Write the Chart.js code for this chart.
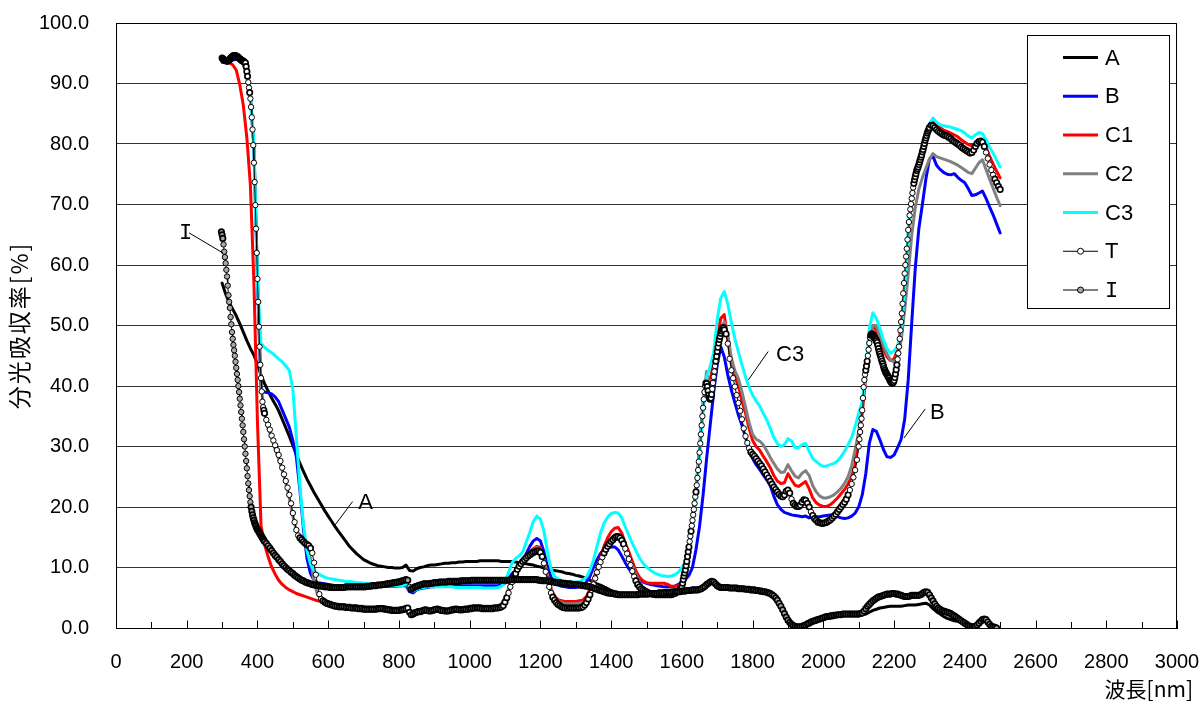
<!DOCTYPE html>
<html>
<head>
<meta charset="utf-8">
<title>分光吸収率</title>
<script src="https://cdn.jsdelivr.net/npm/chart.js@4/dist/chart.umd.min.js"></script>
<style>
  html, body { margin: 0; padding: 0; background: #fff; }
  canvas { display: block; }
</style>
</head>
<body>
<canvas id="chart" width="1203" height="702"></canvas>
<script>
// ---- Spectra: absorption [%] against wavelength [nm] ----

// Solid-line samples share a 10 nm grid starting at 300 nm
const LINE_START = 300;
const LINE_STEP = 10;

const aAbs = [
  57.0, 55.2, 53.8, 52.7, 51.6, 50.3, 48.9, 47.5, 46.2, 45.1,
  43.6, 41.8, 40.4, 39.2, 38.0, 37.0, 35.9, 34.5, 33.1, 31.7,
  30.2, 28.7, 27.2, 25.9, 24.6, 23.5, 22.4, 21.4, 20.4, 19.4,
  18.5, 17.6, 16.7, 15.9, 15.1, 14.3, 13.5, 12.9, 12.3, 11.8,
  11.3, 11.0, 10.7, 10.5, 10.3, 10.2, 10.1, 10.0, 10.0, 9.9,
  9.9, 10.0, 10.4, 9.5, 9.4, 9.8, 10.0, 10.1, 10.3, 10.4,
  10.4, 10.5, 10.6, 10.7, 10.7, 10.8, 10.8, 10.9, 10.9, 11.0,
  11.0, 11.0, 11.0, 11.1, 11.1, 11.1, 11.1, 11.1, 11.1, 11.0,
  11.0, 11.0, 11.0, 10.9, 10.8, 10.7, 10.6, 10.5, 10.4, 10.2,
  10.1, 9.9, 9.8, 9.6, 9.5, 9.4, 9.3, 9.1, 9.0, 8.9,
  8.7, 8.6, 8.4, 8.2, 7.9, 7.6, 7.3, 7.1, 6.8, 6.5,
  6.2, 6.0, 5.8, 5.7, 5.6, 5.5, 5.5, 5.5, 5.5, 5.5,
  5.6, 5.6, 5.6, 5.7, 5.7, 5.8, 5.8, 5.9, 5.9, 6.0,
  6.0, 6.1, 6.2, 6.2, 6.3, 6.4, 6.6, 7.0, 7.4, 7.5,
  7.0, 6.7, 6.6, 6.6, 6.5, 6.5, 6.4, 6.4, 6.3, 6.3,
  6.2, 6.1, 6.0, 5.9, 5.8, 5.6, 5.2, 4.5, 3.5, 2.3,
  1.3, 0.6, 0.3, 0.2, 0.2, 0.4, 0.7, 0.9, 1.1, 1.3,
  1.5, 1.7, 1.8, 1.9, 2.0, 2.0, 2.1, 2.1, 2.1, 2.1,
  2.1, 2.2, 2.3, 2.6, 2.9, 3.1, 3.3, 3.4, 3.5, 3.6,
  3.6, 3.6, 3.6, 3.7, 3.8, 3.8, 3.8, 3.9, 4.0, 4.1,
  3.8, 3.2, 2.7, 2.3, 1.9, 1.6, 1.4, 1.2, 1.1, 1.0,
  0.8, 0.5, 0.2, 0.2, 0.5, 1.0, 1.2, 0.7, 0.3, 0.0
];

const bAbs = [
  93.5, 93.5, 93.6, 93.9, 94.0, 93.8, 93.2, 91.8, 87.8, 79.5,
  57.5, 39.5, 39.0, 38.9, 38.7, 38.2, 37.4, 36.0, 34.6, 33.2,
  31.0, 28.3, 22.8, 16.4, 11.5, 9.0, 7.9, 7.5, 7.4, 7.3,
  7.2, 7.1, 7.0, 7.0, 6.9, 6.9, 6.9, 6.9, 6.9, 6.9,
  6.9, 6.9, 6.9, 6.9, 6.9, 6.9, 6.9, 6.9, 6.9, 6.9,
  6.9, 7.0, 7.0, 6.0, 5.8, 6.3, 6.5, 6.6, 6.7, 6.8,
  6.8, 6.9, 6.9, 6.9, 6.9, 6.9, 7.0, 7.0, 7.0, 7.0,
  7.0, 7.0, 7.0, 7.0, 7.0, 7.0, 7.0, 7.0, 7.0, 7.1,
  7.4, 8.2, 9.0, 9.5, 10.1, 11.0, 12.3, 13.5, 14.4, 14.8,
  14.4, 12.6, 10.2, 8.4, 7.5, 7.1, 6.9, 6.8, 6.7, 6.7,
  6.7, 6.8, 7.0, 7.6, 8.5, 10.0, 11.3, 12.3, 13.0, 13.3,
  13.4, 13.4, 12.9, 11.9, 10.8, 9.8, 9.0, 8.3, 7.9, 7.6,
  7.4, 7.2, 7.1, 7.0, 6.9, 6.8, 6.8, 6.8, 6.9, 7.2,
  7.6, 8.0, 8.7, 10.0, 13.0, 16.8, 22.0, 28.0, 33.5, 39.0,
  43.5, 46.5, 44.8, 41.8, 39.3, 37.2, 35.2, 33.5, 31.5, 29.4,
  28.0, 27.0, 26.2, 25.3, 24.5, 23.5, 21.8, 20.4, 19.6, 19.1,
  18.9, 18.7, 18.6, 18.5, 18.4, 18.5, 18.2, 18.3, 18.4, 18.4,
  18.5, 18.6, 18.7, 18.6, 18.4, 18.2, 18.1, 18.2, 18.5, 19.0,
  20.0, 22.0, 25.5, 30.5, 32.8, 32.5, 31.1, 29.5, 28.3, 28.2,
  28.6, 29.8, 31.2, 34.5, 41.0, 50.5, 59.5, 66.0, 70.0, 74.2,
  77.5, 78.0, 76.5, 75.8, 75.3, 75.0, 74.9, 75.1, 74.5, 74.0,
  73.6, 72.6, 71.5, 71.6, 71.9, 72.2, 71.0, 69.6, 68.3, 66.8,
  65.3
];

const c1Abs = [
  93.9, 93.7, 93.4, 93.1, 92.2, 89.8, 86.4, 81.0, 73.2, 57.0,
  34.0, 17.0, 13.8, 11.8, 10.1, 8.9, 7.9, 7.2, 6.7, 6.3,
  6.0, 5.7, 5.5, 5.3, 5.1, 4.9, 4.7, 4.5, 4.4, 4.3,
  4.1, 4.0, 3.9, 3.8, 3.7, 3.6, 3.6, 3.5, 3.5, 3.4,
  3.4, 3.3, 3.3, 3.3, 3.3, 3.3, 3.3, 3.2, 3.1, 3.1,
  3.1, 3.2, 3.4, 2.8, 2.5, 2.8, 2.9, 3.1, 3.1, 3.0,
  3.2, 3.3, 3.1, 3.0, 3.0, 3.2, 3.3, 3.2, 3.2, 3.3,
  3.4, 3.5, 3.5, 3.5, 3.4, 3.4, 3.4, 3.5, 3.5, 3.7,
  4.6, 6.2, 8.0, 9.5, 10.6, 11.3, 12.0, 12.6, 13.1, 13.5,
  13.3, 11.4, 8.6, 6.5, 5.3, 4.7, 4.5, 4.4, 4.4, 4.4,
  4.4, 4.5, 4.6, 5.2, 6.4, 8.0, 9.9, 11.8, 13.5, 14.9,
  15.9, 16.5, 16.6, 15.7, 14.0, 12.6, 11.0, 9.4, 8.4, 7.8,
  7.5, 7.4, 7.4, 7.4, 7.4, 7.4, 7.2, 6.9, 6.9, 7.0,
  7.4, 9.8, 13.6, 18.2, 23.0, 29.5, 36.5, 41.5, 41.0, 44.0,
  48.2, 51.2, 51.8, 47.5, 43.8, 41.5, 40.0, 37.5, 35.5, 33.0,
  31.0, 30.0, 29.4, 28.4, 27.5, 26.5, 25.2, 24.3, 23.9, 24.0,
  25.5, 24.5, 23.6, 23.4, 23.8, 24.2, 23.0, 21.5, 20.7, 20.3,
  20.1, 20.1, 20.4, 20.9, 21.5, 22.2, 22.9, 23.8, 25.0, 27.0,
  31.0, 35.5, 41.5, 47.2, 49.8, 49.2, 47.5, 46.0, 44.8, 44.2,
  44.5, 46.0, 50.0, 57.0, 65.0, 71.0, 74.5, 76.5, 79.0, 81.5,
  83.2, 83.8, 83.0, 82.7, 82.3, 82.1, 81.8, 81.5, 81.2, 80.7,
  80.3, 79.9, 79.7, 80.2, 80.7, 80.5, 79.5, 78.0, 76.7, 75.5,
  74.4
];

const c2Abs = [
  94.0, 93.9, 94.0, 94.2, 94.3, 93.9, 93.3, 92.0, 88.0, 79.5,
  58.0, 40.0, 35.5, 33.0, 31.5, 29.5, 28.0, 26.0, 24.0, 21.5,
  18.5, 16.0, 14.8, 14.2, 13.8, 11.5, 7.5, 5.5, 4.8, 4.5,
  4.3, 4.1, 4.0, 3.9, 3.9, 3.8, 3.8, 3.7, 3.7, 3.6,
  3.6, 3.5, 3.5, 3.5, 3.5, 3.5, 3.5, 3.4, 3.3, 3.3,
  3.3, 3.4, 3.6, 3.0, 2.7, 3.0, 3.1, 3.3, 3.3, 3.2,
  3.4, 3.5, 3.3, 3.2, 3.2, 3.4, 3.5, 3.4, 3.4, 3.5,
  3.6, 3.7, 3.7, 3.7, 3.6, 3.6, 3.6, 3.7, 3.7, 4.0,
  5.0, 6.6, 8.2, 9.4, 10.2, 10.8, 11.5, 12.3, 12.9, 13.3,
  13.0, 11.2, 8.5, 6.4, 5.2, 4.5, 4.2, 4.0, 4.0, 4.0,
  4.0, 4.1, 4.2, 4.7, 5.8, 7.4, 9.3, 11.1, 12.7, 13.9,
  14.8, 15.3, 15.4, 14.6, 13.3, 11.9, 10.3, 8.8, 7.6, 6.8,
  6.3, 6.0, 5.8, 5.6, 5.4, 5.3, 5.3, 5.4, 5.6, 6.0,
  6.8, 9.5, 13.3, 18.0, 23.0, 30.0, 37.5, 42.4, 39.5, 42.0,
  46.5, 49.5, 50.6, 48.5, 44.6, 42.5, 41.2, 39.0, 36.5, 34.0,
  32.0, 31.2, 30.9, 30.3, 29.3, 28.2, 27.2, 26.3, 25.7, 25.8,
  27.0, 26.0, 25.1, 24.8, 25.6, 26.0, 25.2, 23.5, 22.5, 21.8,
  21.5, 21.5, 21.7, 22.0, 22.5, 23.1, 23.9, 25.0, 26.8, 29.5,
  32.5, 37.0, 42.0, 47.3, 50.0, 50.0, 48.2, 46.7, 45.3, 44.3,
  44.0, 45.0, 47.5, 52.5, 58.5, 65.0, 69.5, 72.5, 74.4, 76.0,
  77.5, 78.4, 77.9, 77.7, 77.5, 77.3, 77.1, 76.8, 76.5, 76.1,
  75.7, 75.3, 75.1, 76.0, 76.9, 77.4, 75.8, 74.2, 72.7, 71.2,
  69.8
];

const c3Abs = [
  94.1, 94.0, 94.1, 94.3, 94.4, 94.0, 93.3, 92.0, 88.2, 80.0,
  57.5, 47.0, 46.4, 45.9, 45.5, 45.0, 44.5, 44.0, 43.3, 42.6,
  39.5, 31.5, 23.5, 17.0, 12.8, 10.5, 9.5, 9.0, 8.7, 8.4,
  8.2, 8.1, 8.0, 7.9, 7.8, 7.7, 7.7, 7.6, 7.5, 7.5,
  7.4, 7.4, 7.3, 7.3, 7.2, 7.2, 7.1, 7.1, 7.0, 7.0,
  6.9, 7.0, 7.2, 6.3, 6.1, 6.4, 6.6, 6.7, 6.8, 6.8,
  6.8, 6.8, 6.8, 6.8, 6.8, 6.8, 6.7, 6.7, 6.7, 6.7,
  6.7, 6.7, 6.7, 6.7, 6.6, 6.6, 6.6, 6.6, 6.7, 6.9,
  7.6, 9.2, 10.8, 11.5, 11.9, 12.6, 14.2, 15.8, 17.6, 18.5,
  18.0, 16.0, 12.6, 9.8, 8.5, 8.1, 7.8, 7.7, 7.6, 7.6,
  7.6, 7.7, 7.9, 8.4, 9.5, 11.2, 13.5, 15.7, 17.3, 18.3,
  18.9, 19.1, 19.0, 18.2, 16.7, 15.3, 14.0, 12.8, 11.6, 10.7,
  10.1, 9.6, 9.2, 8.9, 8.7, 8.6, 8.5, 8.6, 8.8, 9.2,
  10.0, 10.8, 12.5, 16.5, 22.0, 28.5, 36.0, 41.5, 43.2, 45.5,
  51.0, 54.5, 55.6, 53.5, 50.5, 47.8, 45.6, 43.5, 41.5, 39.8,
  38.5, 37.5, 36.7, 35.5, 34.4, 33.0, 31.5, 30.5, 30.0, 30.3,
  31.3, 30.9, 29.8, 29.8, 30.3, 30.5, 29.2, 28.0, 27.5, 27.0,
  26.7, 26.8, 27.0, 27.2, 27.6, 28.3, 29.2, 30.3, 31.5, 33.3,
  35.5, 37.5, 42.0, 49.5, 52.1, 51.2, 49.5, 47.6, 46.2, 45.4,
  45.8, 46.6, 49.0, 56.0, 65.5, 71.5, 74.3, 76.0, 78.4, 81.2,
  83.3, 84.3, 83.6, 83.2, 83.0, 82.9, 82.8, 82.6, 82.4, 82.2,
  81.8, 81.3, 81.0, 81.5, 81.9, 81.7, 80.7, 79.5, 78.5, 77.3,
  76.2
];

// Marker sample T: measured in segments (start nm, step nm)
const tStarts = [300, 425, 1602, 1725, 2102, 2305];
const tSteps = [2, 5, 2, 5, 2, 5];
const tAbs = [
  [ // 300-420
    94.2, 94.1, 94.0, 93.9, 93.8, 93.8, 93.7, 93.7, 93.7, 93.8,
    93.9, 94.0, 94.2, 94.3, 94.4, 94.5, 94.6, 94.6, 94.6, 94.6,
    94.5, 94.5, 94.4, 94.3, 94.2, 94.1, 94.0, 93.9, 93.8, 93.7,
    93.7, 93.6, 93.5, 93.4, 92.8, 92.0, 91.2, 90.2, 89.3, 88.5,
    87.5, 86.1, 84.4, 82.4, 79.8, 76.9, 73.7, 69.9, 66.0, 62.0,
    57.7, 53.9, 49.8, 46.5, 43.5, 41.3, 39.1, 37.4, 36.5, 36.0,
    35.5
  ],
  [ // 425-1600
    34.4, 33.6, 32.8, 31.8, 31.0, 30.2, 29.4, 28.6, 27.6, 26.5, 25.4, 24.3, 23.2, 22.0, 20.6,
    19.0, 17.5, 16.2, 15.3, 14.9, 14.6, 14.3, 14.0, 13.8, 13.6, 13.2, 12.4, 10.8, 8.8, 7.1, 5.6, 4.8, 4.5, 4.3, 4.1,
    4.0, 3.9, 3.8, 3.7, 3.6, 3.6, 3.5, 3.5, 3.5, 3.5, 3.4, 3.4, 3.4, 3.3, 3.3, 3.3, 3.3, 3.2, 3.2, 3.2,
    3.1, 3.1, 3.1, 3.1, 3.1, 3.1, 3.1, 3.1, 3.2, 3.2, 3.2, 3.2, 3.1, 3.1, 3.0, 3.0, 2.9, 2.9, 2.9, 2.9,
    2.9, 3.0, 3.0, 3.1, 3.2, 3.3, 2.6, 2.2, 2.3, 2.5, 2.6, 2.7, 2.7, 2.8, 2.9, 3.0, 2.9, 2.8, 2.8, 2.9,
    3.0, 3.1, 3.1, 3.0, 2.9, 2.9, 2.8, 2.8, 2.8, 2.9, 3.0, 3.0, 3.1, 3.1, 3.0, 3.0, 3.0, 3.1, 3.1, 3.1,
    3.2, 3.2, 3.3, 3.3, 3.3, 3.3, 3.3, 3.2, 3.2, 3.2, 3.2, 3.2, 3.2, 3.2, 3.3, 3.3, 3.3, 3.4, 3.5, 3.7,
    4.3, 5.0, 5.8, 6.8, 7.6, 8.3, 9.0, 9.7, 10.2, 10.6, 11.0, 11.3, 11.6, 11.9, 12.1, 12.3, 12.5, 12.6, 12.7, 12.7,
    12.5, 11.8, 10.7, 9.3, 8.0, 6.8, 5.8, 5.1, 4.6, 4.2, 3.9, 3.7, 3.5, 3.4, 3.3, 3.3, 3.3, 3.3, 3.3, 3.3,
    3.3, 3.3, 3.3, 3.4, 3.5, 3.8, 4.2, 4.8, 5.5, 6.3, 7.2, 8.2, 9.2, 10.1, 10.9, 11.7, 12.4, 13.0, 13.5, 13.9,
    14.3, 14.6, 14.9, 15.1, 15.1, 14.9, 14.5, 13.9, 13.1, 12.3, 11.4, 10.4, 9.4, 8.5, 7.8, 7.2, 6.8, 6.5, 6.3, 6.1,
    6.0, 5.8, 5.7, 5.6, 5.6, 5.5, 5.5, 5.5, 5.5, 5.5, 5.5, 5.5, 5.5, 5.5, 5.5, 5.6, 5.7, 5.9, 6.1, 6.4,
    6.8
  ],
  [ // 1602-1720
    7.4, 8.0, 8.6, 9.1, 9.6, 10.3, 11.0, 11.8, 12.6, 13.4,
    14.3, 15.2, 16.0, 16.9, 17.8, 18.7, 19.6, 20.6, 21.7, 22.5,
    23.6, 24.8, 26.1, 27.5, 29.0, 30.5, 32.0, 33.5, 35.0, 36.4,
    37.8, 39.0, 40.0, 40.5, 40.4, 39.9, 39.2, 38.5, 38.0, 37.8,
    38.0, 38.6, 39.5, 40.5, 41.5, 42.4, 43.3, 44.1, 44.9, 45.7,
    46.4, 47.1, 47.7, 48.2, 48.7, 49.1, 49.4, 49.6, 49.6, 49.3
  ],
  [ // 1725-2100
    48.6, 47.0, 44.5, 42.6, 41.3, 39.9, 38.5, 37.2, 35.9, 34.5, 33.0, 31.7, 30.6, 29.7, 29.1,
    28.7, 28.4, 28.0, 27.6, 27.2, 26.8, 26.3, 25.8, 25.3, 24.8, 24.3, 23.8, 23.3, 22.9, 22.5, 22.1, 21.8, 21.7, 22.0, 22.6,
    22.8, 22.3, 21.3, 20.6, 20.3, 20.1, 20.1, 20.3, 20.8, 21.2, 21.1, 20.6, 20.0, 19.2, 18.6, 18.1, 17.8, 17.5, 17.4, 17.3,
    17.3, 17.4, 17.5, 17.7, 17.9, 18.2, 18.5, 18.8, 19.2, 19.6, 20.0, 20.4, 20.8, 21.3, 22.0, 22.8, 23.8, 24.9, 26.1, 27.8,
    30.0
  ],
  [ // 2102-2300
    31.2, 32.4, 33.5, 34.6, 36.0, 38.0, 39.8, 41.0, 41.9, 42.6,
    43.3, 44.1, 45.0, 46.0, 47.1, 48.0, 48.4, 48.6, 48.6, 48.5,
    48.3, 48.1, 47.9, 47.7, 47.5, 47.2, 46.7, 46.2, 45.7, 45.3,
    44.9, 44.5, 44.1, 43.7, 43.3, 42.9, 42.6, 42.3, 42.1, 41.9,
    41.7, 41.5, 41.3, 41.0, 40.8, 40.6, 40.5, 40.5, 40.6, 40.9,
    41.4, 42.0, 42.7, 43.5, 44.4, 45.4, 46.5, 47.8, 49.2, 50.6,
    52.0, 53.6, 55.3, 57.0, 58.6, 60.0, 61.4, 62.7, 64.2, 65.8,
    67.1, 68.2, 69.2, 70.1, 71.0, 71.9, 72.8, 73.5, 74.1, 74.6,
    75.1, 75.6, 75.9, 76.2, 76.6, 77.0, 77.4, 77.8, 78.2, 78.7,
    79.1, 79.6, 80.1, 80.6, 81.0, 81.4, 81.8, 82.1, 82.4, 82.7
  ],
  [ // 2305-2500
    83.1, 83.0, 82.7, 82.4, 82.1, 81.9, 81.7, 81.5, 81.4, 81.3, 81.1, 80.9, 80.6, 80.4, 80.2, 80.0, 79.8, 79.5, 79.3,
    79.1, 78.9, 78.7, 78.5, 78.6, 79.0, 79.6, 80.1, 80.4, 80.5, 80.3, 79.6, 78.6, 77.6, 76.6, 75.7, 74.9, 74.2, 73.6, 73.0,
    72.5
  ]
];

// Marker sample I
const iStarts = [298, 425];
const iSteps = [2, 5];
const iAbs = [
  [ // 298-420
    65.5, 65.0, 64.4, 63.4, 62.2, 61.3, 60.3, 59.2, 58.1, 56.6,
    55.0, 53.9, 52.9, 51.4, 50.2, 48.9, 47.8, 46.8, 45.9, 45.0,
    44.0, 43.0, 42.0, 41.0, 40.0, 39.0, 37.9, 36.8, 35.7, 34.6,
    33.5, 32.4, 31.2, 30.0, 28.8, 27.6, 26.4, 25.1, 23.9, 22.8,
    21.8, 20.8, 20.0, 19.3, 18.7, 18.2, 17.8, 17.4, 17.1, 16.8,
    16.5, 16.3, 16.1, 15.9, 15.7, 15.5, 15.3, 15.1, 14.9, 14.7,
    14.5, 14.3
  ],
  [ // 425-2490
    14.0, 13.6, 13.2, 12.8, 12.4, 12.0, 11.7, 11.3, 11.0, 10.6, 10.3, 10.0, 9.7, 9.5, 9.2,
    9.0, 8.7, 8.5, 8.3, 8.1, 7.9, 7.8, 7.6, 7.5, 7.4, 7.3, 7.2, 7.1, 7.1, 7.0, 7.0, 6.9, 6.9, 6.8, 6.8,
    6.8, 6.7, 6.7, 6.7, 6.7, 6.7, 6.7, 6.7, 6.7, 6.7, 6.8, 6.8, 6.8, 6.8, 6.8, 6.8, 6.8, 6.8, 6.8, 6.8,
    6.8, 6.8, 6.9, 6.9, 6.9, 7.0, 7.0, 7.0, 7.1, 7.1, 7.1, 7.2, 7.2, 7.3, 7.3, 7.4, 7.4, 7.5, 7.5, 7.6,
    7.6, 7.7, 7.8, 7.9, 8.0, 7.9, 6.8, 6.4, 6.6, 6.8, 6.9, 7.0, 7.1, 7.2, 7.3, 7.3, 7.3, 7.3, 7.4, 7.4,
    7.5, 7.5, 7.5, 7.6, 7.6, 7.6, 7.6, 7.6, 7.7, 7.7, 7.7, 7.7, 7.7, 7.7, 7.7, 7.8, 7.8, 7.8, 7.8, 7.8,
    7.8, 7.9, 7.9, 7.9, 7.9, 7.9, 7.9, 7.9, 7.9, 7.9, 7.9, 7.9, 7.9, 7.9, 7.9, 7.9, 7.9, 7.9, 7.9, 7.9,
    7.9, 7.9, 7.9, 8.0, 8.0, 8.0, 8.0, 8.0, 8.0, 8.0, 8.0, 8.0, 8.0, 8.0, 8.0, 8.0, 8.0, 8.0, 8.0, 7.9,
    7.9, 7.8, 7.8, 7.8, 7.8, 7.7, 7.7, 7.6, 7.6, 7.5, 7.5, 7.5, 7.4, 7.4, 7.4, 7.3, 7.3, 7.3, 7.2, 7.2,
    7.2, 7.2, 7.1, 7.1, 7.0, 7.0, 6.9, 6.9, 6.8, 6.7, 6.6, 6.5, 6.4, 6.3, 6.2, 6.1, 6.0, 5.9, 5.8, 5.8,
    5.7, 5.7, 5.6, 5.6, 5.5, 5.5, 5.5, 5.5, 5.5, 5.5, 5.5, 5.5, 5.5, 5.5, 5.5, 5.5, 5.6, 5.6, 5.6, 5.6,
    5.6, 5.6, 5.7, 5.7, 5.7, 5.7, 5.7, 5.8, 5.8, 5.8, 5.8, 5.9, 5.9, 5.9, 5.9, 6.0, 6.0, 6.0, 6.0, 6.0,
    6.1, 6.1, 6.1, 6.2, 6.2, 6.2, 6.3, 6.3, 6.3, 6.3, 6.4, 6.5, 6.7, 6.9, 7.2, 7.4, 7.6, 7.7, 7.6, 7.3,
    7.0, 6.8, 6.7, 6.7, 6.7, 6.7, 6.7, 6.6, 6.6, 6.6, 6.6, 6.6, 6.5, 6.5, 6.5, 6.5, 6.4, 6.4, 6.4, 6.3,
    6.3, 6.3, 6.2, 6.2, 6.1, 6.1, 6.0, 6.0, 5.9, 5.8, 5.7, 5.5, 5.3, 5.0, 4.6, 4.1, 3.6, 3.0, 2.4, 1.8,
    1.3, 0.9, 0.6, 0.4, 0.3, 0.2, 0.2, 0.2, 0.3, 0.4, 0.5, 0.7, 0.8, 1.0, 1.1, 1.2, 1.3, 1.4, 1.5, 1.6,
    1.7, 1.8, 1.9, 1.9, 2.0, 2.0, 2.1, 2.1, 2.2, 2.2, 2.2, 2.3, 2.3, 2.3, 2.3, 2.3, 2.3, 2.3, 2.3, 2.3,
    2.3, 2.4, 2.5, 2.8, 3.2, 3.6, 3.9, 4.2, 4.5, 4.7, 4.9, 5.1, 5.2, 5.3, 5.4, 5.5, 5.6, 5.6, 5.6, 5.7,
    5.7, 5.6, 5.6, 5.5, 5.4, 5.3, 5.2, 5.2, 5.2, 5.3, 5.4, 5.4, 5.4, 5.4, 5.4, 5.5, 5.7, 5.9, 6.0, 5.9,
    5.5, 5.0, 4.5, 4.0, 3.6, 3.3, 3.1, 2.9, 2.8, 2.7, 2.6, 2.5, 2.4, 2.2, 2.0, 1.8, 1.6, 1.4, 1.2, 1.0,
    0.8, 0.6, 0.4, 0.3, 0.2, 0.2, 0.3, 0.5, 0.8, 1.1, 1.4, 1.5, 1.4, 1.0, 0.6, 0.3, 0.2, 0.1, 0.0
  ]
];

// Axis ticks
const xTickStep = 200;
const xMinorStep = 100;
const yTickStep = 10;

// Call-out labels beside the curves: [wavelength nm, absorption %]
const noteText = ['I', 'A', 'C3', 'B'];
const noteTextAt = [[197, 65.2], [706, 20.6], [1906, 45.2], [2322, 35.6]];
const noteLineFrom = [[207, 65.3], [669, 20.9], [1844, 45.7], [2288, 36.2]];
const noteLineTo = [[302, 62.0], [619, 17.0], [1788, 41.0], [2228, 31.4]];

// ---- Build point lists ----
function gridPoints(start, step, values) {
  return values.map((v, i) => ({ x: start + i * step, y: v }));
}
function segmentPoints(starts, steps, segs) {
  let pts = [];
  segs.forEach((vals, k) => { pts = pts.concat(gridPoints(starts[k], steps[k], vals)); });
  return pts;
}

const LATIN = '"Liberation Sans", Arial, sans-serif';
const CJK = '"Noto Sans CJK JP", "Noto Sans", sans-serif';
const SERIF_I = '"Liberation Mono", "DejaVu Sans Mono", monospace';

// Where consecutive markers crowd together their outlines merge into a dark band;
// give crowded markers a heavier outline so the band reads solid.
function crowdedOutline(ctx) {
  const data = ctx.dataset && ctx.dataset.data;
  const i = ctx.dataIndex;
  if (!data || i == null) return 1;
  const xs = ctx.chart.scales.x, ys = ctx.chart.scales.y;
  const p = data[i], q = data[i > 0 ? i - 1 : i + 1];
  if (!p || !q) return 1;
  const d = Math.hypot(xs.getPixelForValue(p.x) - xs.getPixelForValue(q.x),
                       ys.getPixelForValue(p.y) - ys.getPixelForValue(q.y));
  return d < 5 ? 1.7 : 1;
}

function solid(label, color, values, order) {
  return {
    label, order,
    data: gridPoints(LINE_START, LINE_STEP, values),
    borderColor: color, backgroundColor: color,
    borderWidth: 3, pointRadius: 0,
    borderJoinStyle: 'round', borderCapStyle: 'round',
    fill: false, tension: 0
  };
}
function marked(label, fillColor, pts, order) {
  return {
    label, order, data: pts,
    borderColor: '#000', backgroundColor: fillColor,
    borderWidth: 1, fill: false, tension: 0,
    pointRadius: 2.7, pointBorderWidth: crowdedOutline,
    pointBackgroundColor: fillColor, pointBorderColor: '#000',
    pointStyle: 'circle'
  };
}

const datasets = [
  solid('A', '#000000', aAbs, 6),
  solid('B', '#0000ff', bAbs, 5),
  solid('C1', '#ff0000', c1Abs, 4),
  solid('C2', '#808080', c2Abs, 3),
  solid('C3', '#00ffff', c3Abs, 2),
  marked('T', '#ffffff', segmentPoints(tStarts, tSteps, tAbs), 1),
  marked('I', '#a8a8a8', segmentPoints(iStarts, iSteps, iAbs), 0)
];

// ---- Decorations: frame, inner tick marks, call-outs, legend, axis titles ----
const decor = {
  id: 'decor',
  afterDraw(chart) {
    const { ctx, chartArea: a, scales: { x, y } } = chart;
    ctx.save();

    // top and right edges of the plot frame
    ctx.strokeStyle = '#000';
    ctx.lineWidth = 1;
    ctx.beginPath();
    ctx.moveTo(Math.round(a.left) + 0.5, Math.round(a.top) + 0.5);
    ctx.lineTo(Math.round(a.right) - 0.5, Math.round(a.top) + 0.5);
    ctx.lineTo(Math.round(a.right) - 0.5, Math.round(a.bottom) + 0.5);
    ctx.stroke();

    // tick marks pointing into the plot
    ctx.beginPath();
    for (let v = x.min; v <= x.max; v += xMinorStep) {
      const px = Math.round(x.getPixelForValue(v)) + 0.5;
      const len = (v % xTickStep === 0) ? 7.5 : 6;
      ctx.moveTo(px, a.bottom);
      ctx.lineTo(px, a.bottom - len);
    }
    ctx.stroke();

    // call-outs
    ctx.fillStyle = '#000';
    ctx.textAlign = 'center';
    ctx.textBaseline = 'middle';
    noteText.forEach((t, k) => {
      ctx.beginPath();
      ctx.moveTo(x.getPixelForValue(noteLineFrom[k][0]), y.getPixelForValue(noteLineFrom[k][1]));
      ctx.lineTo(x.getPixelForValue(noteLineTo[k][0]), y.getPixelForValue(noteLineTo[k][1]));
      ctx.stroke();
      ctx.font = (t === 'I' ? '22px ' + SERIF_I : '22px ' + LATIN);
      ctx.fillText(t, x.getPixelForValue(noteTextAt[k][0]), y.getPixelForValue(noteTextAt[k][1]));
    });

    // legend box
    const box = { l: 1027.5, t: 35.5, r: 1169.5, b: 308.5 };
    ctx.fillStyle = '#fff';
    ctx.fillRect(box.l, box.t, box.r - box.l, box.b - box.t);
    ctx.strokeStyle = '#000';
    ctx.strokeRect(box.l, box.t, box.r - box.l, box.b - box.t);
    const x0 = 1063, x1 = 1098, rowTop = 57.5, rowGap = 38.75;
    chart.data.datasets.forEach((ds, i) => {
      const ry = rowTop + i * rowGap;
      ctx.beginPath();
      ctx.strokeStyle = ds.borderColor;
      ctx.lineWidth = ds.borderWidth;
      ctx.lineCap = 'butt';
      ctx.moveTo(x0, ry);
      ctx.lineTo(x1, ry);
      ctx.stroke();
      if (ds.pointRadius > 0) {
        ctx.beginPath();
        ctx.arc((x0 + x1) / 2, ry, 3, 0, Math.PI * 2);
        ctx.fillStyle = ds.pointBackgroundColor;
        ctx.fill();
        ctx.lineWidth = 1;
        ctx.strokeStyle = '#000';
        ctx.stroke();
      }
      ctx.fillStyle = '#000';
      ctx.textAlign = 'left';
      ctx.textBaseline = 'middle';
      ctx.font = (ds.label === 'I' ? '22px ' + SERIF_I : '22px ' + LATIN);
      ctx.fillText(ds.label, 1105, ry + 1);
    });

    // axis titles
    ctx.fillStyle = '#000';
    ctx.font = '21px ' + CJK;
    ctx.textAlign = 'right';
    ctx.textBaseline = 'middle';
    ctx.fillText('波長[nm]', 1193, 689);

    ctx.save();
    ctx.translate(19, (a.top + a.bottom) / 2);
    ctx.rotate(-Math.PI / 2);
    ctx.font = '23px ' + CJK;
    ctx.letterSpacing = '2px';
    ctx.textAlign = 'center';
    ctx.fillText('分光吸収率[%]', 0, 0);
    ctx.restore();

    ctx.restore();
  }
};

new Chart(document.getElementById('chart'), {
  type: 'line',
  data: { datasets },
  options: {
    responsive: false,
    animation: false,
    devicePixelRatio: 1,
    layout: { padding: { left: 0, right: 26, top: 23, bottom: 0 } },
    plugins: { legend: { display: false }, tooltip: { enabled: false } },
    scales: {
      x: {
        type: 'linear', min: 0, max: 3000,
        ticks: {
          stepSize: xTickStep, autoSkip: false, maxRotation: 0, padding: 22,
          color: '#000', font: { family: LATIN, size: 20 },
          callback: v => String(v)
        },
        grid: { display: false, drawTicks: false },
        border: { display: true, color: '#000', width: 1 },
        afterFit(scale) {
          scale.height = 74;
          scale.paddingLeft = 0; scale.paddingRight = 0;
          scale.paddingTop = 0; scale.paddingBottom = 0;
        }
      },
      y: {
        type: 'linear', min: 0, max: 100,
        ticks: {
          stepSize: yTickStep, padding: 27,
          color: '#000', font: { family: LATIN, size: 20 },
          callback: v => v.toFixed(1)
        },
        grid: { color: '#333', lineWidth: 1, drawTicks: false },
        border: { display: true, color: '#000', width: 1 },
        afterFit(scale) {
          scale.width = 116;
          scale.paddingLeft = 0; scale.paddingRight = 0;
          scale.paddingTop = 0; scale.paddingBottom = 0;
        }
      }
    }
  },
  plugins: [decor]
});
</script>
</body>
</html>
